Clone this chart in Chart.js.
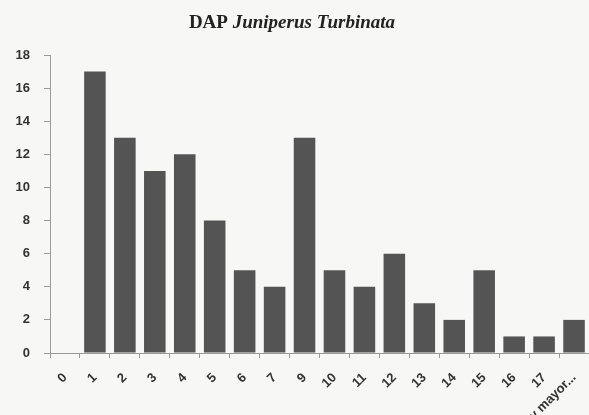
<!DOCTYPE html>
<html>
<head>
<meta charset="utf-8">
<script src="https://cdn.jsdelivr.net/npm/chart.js@4"></script>
<style>
  html, body { margin: 0; padding: 0; background: #f7f7f6; }
  #wrap { width: 589px; height: 415px; }
</style>
</head>
<body>
<div id="wrap"><canvas id="chart-dap" width="589" height="415"></canvas></div>
<script>
const classes = ['0', '1', '2', '3', '4', '5', '6', '7', '9', '10', '11', '12', '13', '14', '15', '16', '17', 'y mayor...'];
const counts = [0, 17, 13, 11, 12, 8, 5, 4, 13, 5, 4, 6, 3, 2, 5, 1, 1, 2];
const yTicks = [0, 2, 4, 6, 8, 10, 12, 14, 16, 18];

// title mixes upright "DAP" with the italic species name
const mixedTitle = {
  id: 'mixedTitle',
  afterDraw(chart) {
    const ctx = chart.ctx;
    const a = 'DAP ';
    const b = 'Juniperus Turbinata';
    const fa = 'bold 19px "Liberation Serif", serif';
    const fb = 'italic bold 19px "Liberation Serif", serif';
    ctx.save();
    ctx.fillStyle = '#222';
    ctx.textBaseline = 'alphabetic';
    ctx.font = fa;
    const wa = ctx.measureText(a).width;
    ctx.font = fb;
    const wb = ctx.measureText(b).width;
    let x = 292 - (wa + wb) / 2;
    ctx.font = fa;
    ctx.fillText(a, x, 28);
    ctx.font = fb;
    ctx.fillText(b, x + wa, 28);
    ctx.restore();
  }
};

const ctx = document.getElementById('chart-dap').getContext('2d');
new Chart(ctx, {
  type: 'bar',
  plugins: [mixedTitle],
  data: {
    labels: classes,
    datasets: [{
      data: counts,
      backgroundColor: '#545454',
      barPercentage: 0.72,
      categoryPercentage: 1
    }]
  },
  options: {
    responsive: false,
    animation: false,
    layout: { padding: { top: 55, right: 0, bottom: 0, left: 0 } },
    plugins: {
      legend: { display: false },
      title: { display: false },
      tooltip: { enabled: false }
    },
    scales: {
      x: {
        offset: true,
        afterFit: (s) => { s.height = 62; s.paddingRight = 0; s.paddingLeft = 0; },
        grid: { display: true, drawOnChartArea: false, offset: true, tickLength: 5, color: '#999' },
        border: { color: '#999' },
        ticks: {
          minRotation: 45, maxRotation: 45, autoSkip: false, padding: 12,
          color: '#333', font: { family: '"Liberation Sans", sans-serif', size: 13, weight: 'bold' }
        }
      },
      y: {
        min: 0, max: 18,
        afterFit: (s) => { s.width = 50; },
        afterBuildTicks: (s) => { s.ticks = yTicks.map(v => ({ value: v })); },
        grid: { display: true, drawOnChartArea: false, tickLength: 6, color: '#999' },
        border: { color: '#999' },
        ticks: {
          padding: 14, color: '#333',
          font: { family: '"Liberation Sans", sans-serif', size: 13, weight: 'bold' }
        }
      }
    }
  }
});
</script>
</body>
</html>
